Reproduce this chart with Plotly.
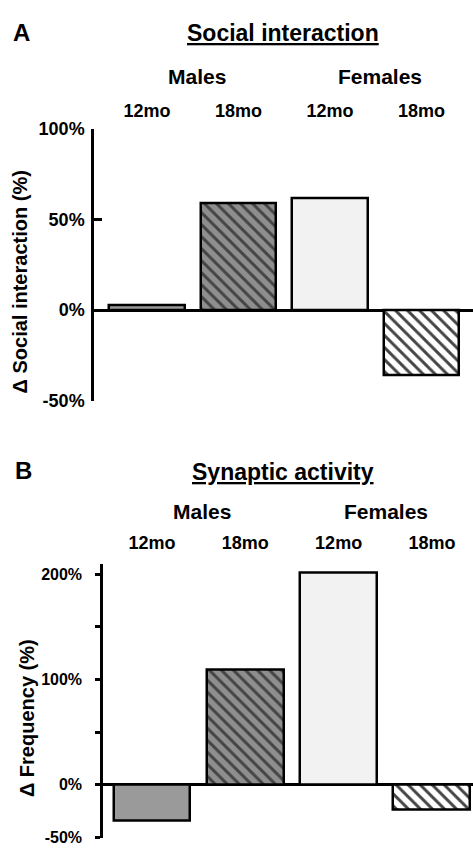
import plotly.graph_objects as go

# ---- data ----
age_labels = ["12mo", "18mo", "12mo", "18mo"]
sex_labels = ["Males", "Females"]
social_values = [2.5, 59, 62, -36]          # Δ Social interaction (%)
synaptic_values = [-34, 109, 201, -24]      # Δ Frequency (%)
social_ticks = [100, 50, 0, -50]
social_ticktext = ["100%", "50%", "0%", "-50%"]
synaptic_ticks = [200, 150, 100, 50, 0, -50]
synaptic_ticktext = ["200%", "", "100%", "", "0%", "-50%"]

W, H = 473, 856
FONT = "Arial, Liberation Sans, sans-serif"

fill_colors = ["#9a9a9a", "#8e8e8e", "#f2f2f2", "#ffffff"]
pattern_shapes = ["", "\\", "", "\\"]

def px_x(p):
    return p / W

def px_y(p):
    return 1 - p / H

fig = go.Figure()
pos = list(range(len(age_labels)))

for vals, xa, ya, bw in [(social_values, "x", "y", 0.82), (synaptic_values, "x2", "y2", 0.825)]:
    fig.add_trace(go.Bar(
        x=pos, y=vals, xaxis=xa, yaxis=ya, width=bw,
        marker=dict(
            color=fill_colors,
            line=dict(color="black", width=2.5),
            pattern=dict(shape=pattern_shapes, fgcolor="black", fgopacity=1,
                         size=8.5, solidity=0.35, fillmode="overlay"),
        ),
        showlegend=False, hoverinfo="skip",
    ))

axis_common = dict(showgrid=False, zeroline=False)
fig.update_layout(
    width=W, height=H,
    margin=dict(l=0, r=0, t=0, b=0),
    paper_bgcolor="white", plot_bgcolor="white",
    font=dict(family=FONT, color="black"),
    bargap=0,
    xaxis=dict(domain=[px_x(94), 1], range=[-0.579, 3.563], side="top",
               tickvals=pos, ticktext=[f"<b>{t}</b>" for t in age_labels],
               ticks="", showline=False, anchor="y", ticklabelstandoff=8,
               tickfont=dict(size=18, family=FONT), **axis_common),
    yaxis=dict(domain=[px_y(400), px_y(122)], range=[-50, 100],
               tickvals=social_ticks, ticktext=[f"<b>{t}</b>" for t in social_ticktext],
               ticks="inside", ticklen=8, tickwidth=2.5, tickcolor="black",
               showline=True, linecolor="black", linewidth=2.5, anchor="x",
               zeroline=True, zerolinecolor="black", zerolinewidth=2.5,
               showgrid=False, ticklabelstandoff=3,
               tickfont=dict(size=18, family=FONT)),
    xaxis2=dict(domain=[px_x(103), 1], range=[-0.525, 3.44], side="top",
                tickvals=pos, ticktext=[f"<b>{t}</b>" for t in age_labels],
                ticks="", showline=False, anchor="y2", ticklabelstandoff=10,
                tickfont=dict(size=18, family=FONT), **axis_common),
    yaxis2=dict(domain=[px_y(848), px_y(567)], range=[-50.7, 210],
                tickvals=synaptic_ticks, ticktext=[f"<b>{t}</b>" if t else "" for t in synaptic_ticktext],
                ticks="outside", ticklen=5, tickwidth=2.5, tickcolor="black",
                showline=True, linecolor="black", linewidth=2.5, anchor="x2",
                zeroline=True, zerolinecolor="black", zerolinewidth=2.5,
                showgrid=False, ticklabelstandoff=10,
                tickfont=dict(size=16, family=FONT)),
)

ann = []
def add(text, x, y, size, angle=0):
    ann.append(dict(text=text, x=px_x(x), y=px_y(y), xref="paper", yref="paper",
                    xanchor="center", yanchor="middle", showarrow=False,
                    textangle=angle, font=dict(size=size, family=FONT, color="black")))

add("<b>A</b>", 21, 23, 24)
add("<b><u>Social interaction</u></b>", 283, 24, 23)
add(f"<b>{sex_labels[0]}</b>", 197, 68, 21)
add(f"<b>{sex_labels[1]}</b>", 380, 68, 21)
add("<b>Δ Social interaction (%)</b>", 20, 279, 20, -90)

add("<b>B</b>", 23, 472, 24)
add("<b><u>Synaptic activity</u></b>", 283, 473, 23)
add(f"<b>{sex_labels[0]}</b>", 202, 514, 21)
add(f"<b>{sex_labels[1]}</b>", 386, 514, 21)
add("<b>Δ Frequency (%)</b>", 27, 725, 20, -90)

fig.update_layout(annotations=ann)
fig.write_html("out.html", config={"displayModeBar": False},
               post_script="document.body.style.margin='0';document.body.style.overflow='hidden';")
